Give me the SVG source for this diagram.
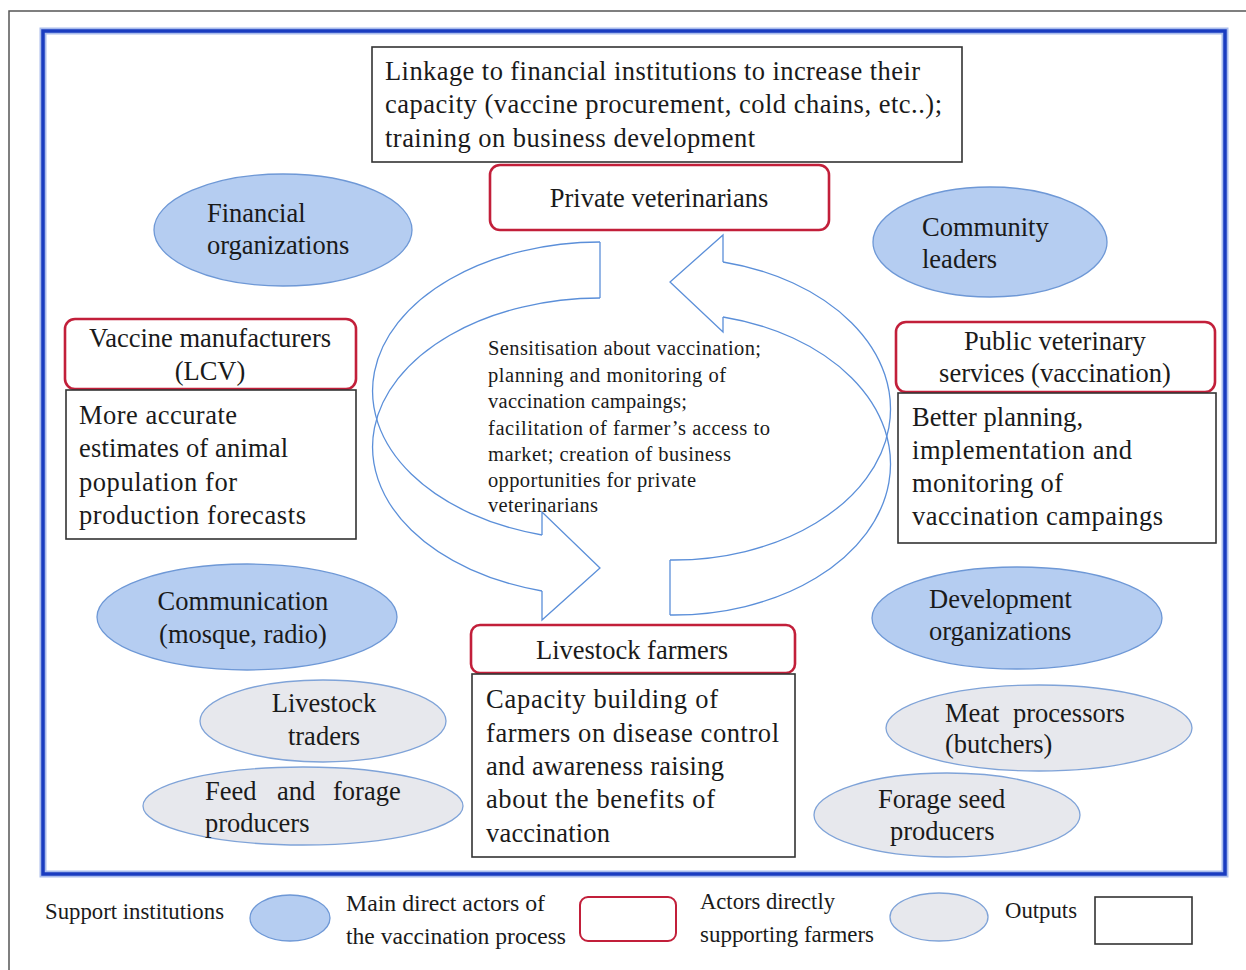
<svg xmlns="http://www.w3.org/2000/svg" width="1246" height="970" viewBox="0 0 1246 970">
<style>
text{font-family:"Liberation Serif","Times New Roman",serif;fill:#1a1a1a}
.b{font-size:26.5px}
.c{font-size:20.5px}
.l{font-size:22.5px}
.mid{text-anchor:middle}
.sup{fill:#b5cdf1;stroke:#6e98d6;stroke-width:1.3}
.out{fill:#e7e8ed;stroke:#7fa3d8;stroke-width:1.3}
.act{fill:#fff;stroke:#c21f3a;stroke-width:2.6}
.res{fill:#fff;stroke:#333;stroke-width:1.6}
.arr{fill:none;stroke:#5b8fd9;stroke-width:1.3;stroke-linejoin:miter}
</style>
<rect x="0" y="0" width="1246" height="970" fill="#fff"/>
<rect x="9" y="11" width="1260" height="990" fill="#fff" stroke="#555" stroke-width="1.5"/>
<rect x="43" y="31" width="1182" height="843" fill="none" stroke="#a9bcec" stroke-width="7"/>
<rect x="43" y="31" width="1182" height="843" fill="none" stroke="#1a3cc0" stroke-width="3.5"/>

<g id="connectors">
  <g id="arrow-left" class="arr">
    <path d="M600,242 A228,149 0 0 0 542,535"/>
    <path d="M600,298 A228,149 0 0 0 542,591"/>
    <path d="M600,242 L600,298"/>
    <path d="M542,535 L542,512 L600,568 L542,620 L542,591"/>
  </g>
  <g id="arrow-right" class="arr">
    <path d="M670,615 A217,151 0 0 0 723,317"/>
    <path d="M670,560 A217,151 0 0 0 723,262"/>
    <path d="M670,560 L670,615"/>
    <path d="M723,317 L723,332 L670,282 L723,235 L723,262"/>
  </g>
</g>

<g id="linkage">
  <rect class="res" x="372" y="47" width="590" height="115"/>
  <text class="b" x="385" y="80" textLength="535" lengthAdjust="spacing">Linkage to financial institutions to increase their</text>
  <text class="b" x="385" y="113" textLength="557" lengthAdjust="spacing">capacity (vaccine procurement, cold chains, etc..);</text>
  <text class="b" x="385" y="147" textLength="370" lengthAdjust="spacing">training on business development</text>
</g>

<g id="private-vets">
  <rect class="act" x="490" y="165" width="339" height="65" rx="10"/>
  <text class="b mid" x="659" y="207">Private veterinarians</text>
</g>

<g id="financial">
  <ellipse class="sup" cx="283" cy="230" rx="129" ry="56"/>
  <text class="b" x="207" y="222">Financial</text>
  <text class="b" x="207" y="254">organizations</text>
</g>

<g id="community">
  <ellipse class="sup" cx="990" cy="242" rx="117" ry="55"/>
  <text class="b" x="922" y="236">Community</text>
  <text class="b" x="922" y="268">leaders</text>
</g>

<g id="vaccine-manufacturers">
  <rect class="act" x="65" y="319" width="291" height="70" rx="10"/>
  <text class="b mid" x="210" y="347">Vaccine manufacturers</text>
  <text class="b mid" x="210" y="380">(LCV)</text>
</g>
<g id="vaccine-output">
  <rect class="res" x="66" y="390" width="290" height="149"/>
  <text class="b" x="79" y="424" textLength="158" lengthAdjust="spacing">More accurate</text>
  <text class="b" x="79" y="457" textLength="209" lengthAdjust="spacing">estimates of animal</text>
  <text class="b" x="79" y="491" textLength="158" lengthAdjust="spacing">population for</text>
  <text class="b" x="79" y="524" textLength="227" lengthAdjust="spacing">production forecasts</text>
</g>

<g id="public-vets">
  <rect class="act" x="896" y="322" width="319" height="70" rx="10"/>
  <text class="b mid" x="1055" y="350">Public veterinary</text>
  <text class="b mid" x="1055" y="382">services (vaccination)</text>
</g>
<g id="public-output">
  <rect class="res" x="898" y="393" width="318" height="150"/>
  <text class="b" x="912" y="426" textLength="171" lengthAdjust="spacing">Better planning,</text>
  <text class="b" x="912" y="459" textLength="220" lengthAdjust="spacing">implementation and</text>
  <text class="b" x="912" y="492" textLength="151" lengthAdjust="spacing">monitoring of</text>
  <text class="b" x="912" y="525" textLength="251" lengthAdjust="spacing">vaccination campaings</text>
</g>

<g id="center-text">
  <text class="c" x="488" y="355" textLength="273" lengthAdjust="spacing">Sensitisation about vaccination;</text>
  <text class="c" x="488" y="382" textLength="238" lengthAdjust="spacing">planning and monitoring of</text>
  <text class="c" x="488" y="408" textLength="199" lengthAdjust="spacing">vaccination campaings;</text>
  <text class="c" x="488" y="435" textLength="282" lengthAdjust="spacing">facilitation of farmer’s access to</text>
  <text class="c" x="488" y="461" textLength="243" lengthAdjust="spacing">market; creation of business</text>
  <text class="c" x="488" y="487" textLength="208" lengthAdjust="spacing">opportunities for private</text>
  <text class="c" x="488" y="512" textLength="110" lengthAdjust="spacing">veterinarians</text>
</g>

<g id="communication">
  <ellipse class="sup" cx="247" cy="617" rx="150" ry="53"/>
  <text class="b mid" x="243" y="610">Communication</text>
  <text class="b mid" x="243" y="643">(mosque, radio)</text>
</g>

<g id="development">
  <ellipse class="sup" cx="1017" cy="618" rx="145" ry="51"/>
  <text class="b" x="929" y="608">Development</text>
  <text class="b" x="929" y="640">organizations</text>
</g>

<g id="livestock-farmers">
  <rect class="act" x="471" y="625" width="324" height="48" rx="9"/>
  <text class="b mid" x="632" y="659">Livestock farmers</text>
</g>
<g id="farmers-output">
  <rect class="res" x="472" y="674" width="323" height="183"/>
  <text class="b" x="486" y="708" textLength="232" lengthAdjust="spacing">Capacity building of</text>
  <text class="b" x="486" y="742" textLength="293" lengthAdjust="spacing">farmers on disease control</text>
  <text class="b" x="486" y="775" textLength="238" lengthAdjust="spacing">and awareness raising</text>
  <text class="b" x="486" y="808" textLength="229" lengthAdjust="spacing">about the benefits of</text>
  <text class="b" x="486" y="842" textLength="124" lengthAdjust="spacing">vaccination</text>
</g>

<g id="livestock-traders">
  <ellipse class="out" cx="323" cy="721" rx="123" ry="41"/>
  <text class="b mid" x="324" y="712">Livestock</text>
  <text class="b mid" x="324" y="745">traders</text>
</g>

<g id="feed-forage">
  <ellipse class="out" cx="303" cy="806" rx="160" ry="39"/>
  <text class="b" y="800"><tspan x="205">Feed</tspan><tspan x="277">and</tspan><tspan x="333">forage</tspan></text>
  <text class="b" x="205" y="832">producers</text>
</g>

<g id="meat-processors">
  <ellipse class="out" cx="1039" cy="728" rx="153" ry="43"/>
  <text class="b" y="722"><tspan x="945">Meat</tspan><tspan x="1013">processors</tspan></text>
  <text class="b" x="945" y="753">(butchers)</text>
</g>

<g id="forage-seed">
  <ellipse class="out" cx="947" cy="815" rx="133" ry="42"/>
  <text class="b" x="878" y="808">Forage seed</text>
  <text class="b" x="890" y="840">producers</text>
</g>

<g id="legend">
  <text class="l" x="45" y="919" textLength="179" lengthAdjust="spacingAndGlyphs">Support institutions</text>
  <ellipse class="sup" cx="290" cy="918" rx="40" ry="23"/>
  <text class="l" x="346" y="911" textLength="199" lengthAdjust="spacingAndGlyphs">Main direct actors of</text>
  <text class="l" x="346" y="944" textLength="220" lengthAdjust="spacingAndGlyphs">the vaccination process</text>
  <rect class="act" x="580" y="897" width="96" height="44" rx="8" style="stroke-width:2"/>
  <text class="l" x="700" y="909" textLength="135" lengthAdjust="spacingAndGlyphs">Actors directly</text>
  <text class="l" x="700" y="942" textLength="174" lengthAdjust="spacingAndGlyphs">supporting farmers</text>
  <ellipse class="out" cx="939" cy="917" rx="49" ry="24"/>
  <text class="l" x="1005" y="918" textLength="72" lengthAdjust="spacingAndGlyphs">Outputs</text>
  <rect class="res" x="1095" y="897" width="97" height="47"/>
</g>
</svg>
